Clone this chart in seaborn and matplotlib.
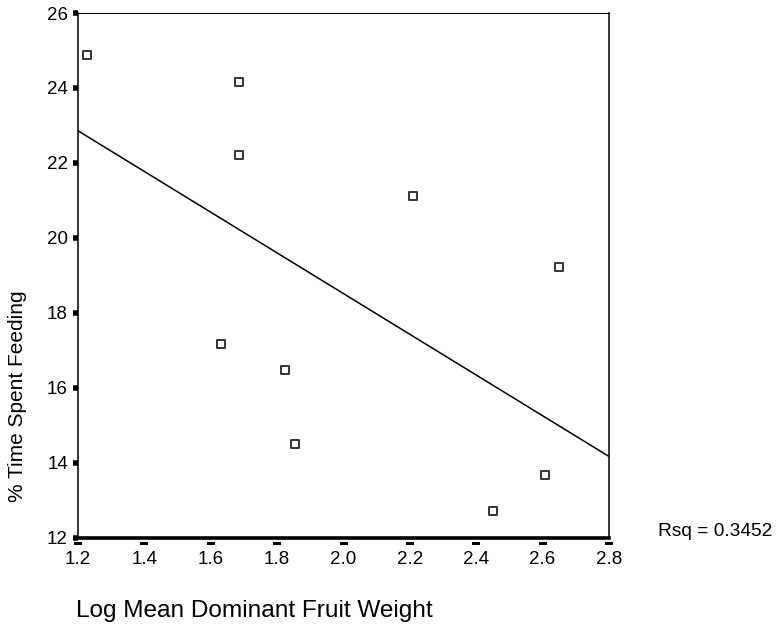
import matplotlib
matplotlib.use("Agg")
import matplotlib.pyplot as plt
import seaborn as sns
import numpy as np
import pandas as pd
from matplotlib.path import Path
from matplotlib.markers import MarkerStyle

log_fruit_weight = [1.228, 1.684, 1.684, 2.208, 2.649, 1.632, 1.824, 1.854, 2.606, 2.450]
time_feeding = [24.88, 24.15, 22.21, 21.11, 19.23, 17.17, 16.46, 14.49, 13.68, 12.70]
x_ticks = [1.2, 1.4, 1.6, 1.8, 2.0, 2.2, 2.4, 2.6, 2.8]
y_ticks = [12, 14, 16, 18, 20, 22, 24, 26]
x_label = "Log Mean Dominant Fruit Weight"
y_label = "% Time Spent Feeding"
rsq_text = "Rsq = 0.3452"

df = pd.DataFrame({"x": log_fruit_weight, "y": time_feeding})

sns.set_style("white")
plt.rcParams['font.family'] = ['Liberation Sans', 'DejaVu Sans']
plt.rcParams['text.color'] = 'black'
plt.rcParams['xtick.color'] = 'black'
plt.rcParams['ytick.color'] = 'black'
plt.rcParams['axes.labelcolor'] = 'black'

fig = plt.figure(figsize=(7.8, 6.32), dpi=100)
ax = fig.add_axes([0.1, 1 - 537.5 / 632, (609 - 78) / 780, (537.5 - 13) / 632])
ax.set_xlim(1.2, 2.8)
ax.set_ylim(12, 26)

sns.regplot(data=df, x="x", y="y", ax=ax, ci=None, truncate=False, marker="s",
            scatter_kws=dict(s=28, facecolors="white", edgecolors="black",
                             linewidths=1.4, zorder=3),
            line_kws=dict(color="black", linewidth=1.1))

ax.set_xlim(1.2, 2.8)
ax.set_ylim(12, 26)
ax.set_xticks(x_ticks)
ax.set_xticklabels([f"{v:.1f}" for v in x_ticks])
ax.set_yticks(y_ticks)
ax.set_yticklabels([str(v) for v in y_ticks])
ax.set_xlabel("")
ax.set_ylabel("")

for side, lw in [("left", 1.1), ("top", 0.8), ("right", 1.1), ("bottom", 2.6)]:
    ax.spines[side].set_visible(True)
    ax.spines[side].set_color("black")
    ax.spines[side].set_linewidth(lw)

ax.tick_params(axis="y", direction="out", length=3.6, width=4.0, color="black",
               labelsize=13.5, pad=3.6, left=True, labelcolor="black")
ax.tick_params(axis="x", direction="out", length=4.3, width=1, color="black",
               labelsize=13.5, pad=5.6, bottom=True, labelcolor="black")

# x tick marks: small horizontal bars detached below the axis
h = 6.5
bar_path = Path([(-4 / h, -1.0), (4 / h, -1.0), (4 / h, -3.5 / h),
                 (-4 / h, -3.5 / h), (-4 / h, -1.0)],
                [Path.MOVETO, Path.LINETO, Path.LINETO, Path.LINETO, Path.CLOSEPOLY])
for t in ax.xaxis.get_major_ticks():
    t.tick1line.set_marker(MarkerStyle(bar_path))
    t.tick1line.set_markersize(2 * h * 0.72)
    t.tick1line.set_markerfacecolor("black")
    t.tick1line.set_markeredgecolor("black")
    t.tick1line.set_markeredgewidth(0)

fig.text(76 / 780, 1 - 617 / 632, x_label, fontsize=17.6, ha="left", va="baseline",
         color="black")
fig.text(18 / 780, 1 - 396.5 / 632, y_label, fontsize=15, ha="center", va="center",
         rotation=90, color="black")
fig.text(658 / 780, 1 - 532 / 632, rsq_text, fontsize=13.8, ha="left", va="center",
         color="black")

fig.savefig("out.png", dpi=100, facecolor="white")
